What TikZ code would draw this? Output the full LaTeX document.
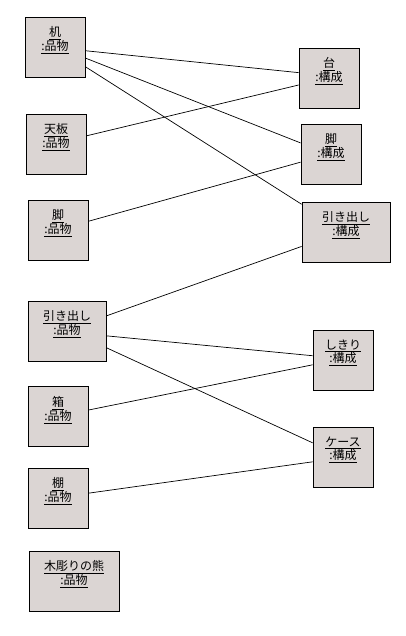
\documentclass[tikz,border=0pt]{standalone}
\usepackage{fontspec}
\newfontfamily\jp{Noto Sans CJK JP}
\definecolor{boxfill}{RGB}{219,213,211}
\tikzset{
  obj/.style={draw, fill=boxfill, line width=0.8pt, minimum width=60pt, minimum height=60pt,
    label={[lbl]north:#1}},
  lbl/.style={anchor=north, yshift=-10pt, align=center, inner sep=0pt,
    font=\jp\fontsize{12}{13}\selectfont},
  link/.style={line width=0.7pt}
}
\begin{document}
\begin{tikzpicture}[x=1pt, y=-1pt]
        \useasboundingbox (0,0) rectangle (405,636);
        % Objetos de la izquierda (品物)
        \node[obj={\underline{机}\\\underline{:品物}}] (tsukue) at (55,47) {};
        \node[obj={\underline{天板}\\\underline{:品物}}] (tenban) at (56,144) {};
        \node[obj={\underline{脚}\\\underline{:品物}}] (ashiL) at (58,230) {};
        \node[obj={\underline{引き出し}\\\underline{:品物}}, minimum width=78pt] (hikiL) at (67,331) {};
        \node[obj={\underline{箱}\\\underline{:品物}}] (hako) at (58,416.5) {};
        \node[obj={\underline{棚}\\\underline{:品物}}] (tana) at (58,498) {};
        \node[obj={\underline{木彫りの熊}\\\underline{:品物}}, minimum width=90pt] (kuma) at (74,581) {};
        % Objetos de la derecha (構成)
        \node[obj={\underline{台}\\\underline{:構成}}] (dai) at (329,78) {};
        \node[obj={\underline{脚}\\\underline{:構成}}] (ashiR) at (331,154) {};
        \node[obj={\underline{引き出し}\\\underline{:構成}}, minimum width=88pt] (hikiR) at (346,232) {};
        \node[obj={\underline{しきり}\\\underline{:構成}}] (shikiri) at (343,360) {};
        \node[obj={\underline{ケース}\\\underline{:構成}}] (kesu) at (343,457) {};
        % Enlaces
        \draw[link] (tsukue.-7.6) -- (dai.170.5);
        \draw[link] (tsukue.-20) -- (ashiR.160);
        \draw[link] (tsukue.-33.7) -- (hikiR.148.5);
        \draw[link] (tenban.15) -- (dai.193);
        \draw[link] (ashiL.16.7) -- (ashiR.195);
        \draw[link] (hikiL.21) -- (hikiR.198.8);
        \draw[link] (hikiL.-7.3) -- (shikiri.172.4);
        \draw[link] (hikiL.-23.6) -- (kesu.155);
        \draw[link] (hako.12.2) -- (shikiri.189.5);
        \draw[link] (tana.9.5) -- (kesu.189.5);
    \end{tikzpicture}
\end{document}
